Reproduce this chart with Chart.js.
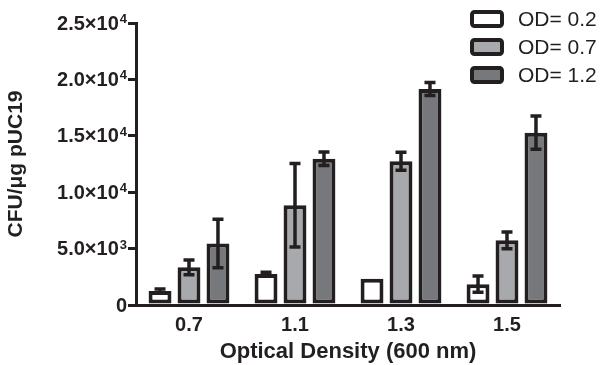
<!DOCTYPE html>
<html>
<head>
<meta charset="utf-8">
<script src="https://cdn.jsdelivr.net/npm/chart.js@4.4.0/dist/chart.umd.min.js"></script>
<style>
  html, body { margin: 0; padding: 0; background: #fff; }
  #wrap { width: 608px; height: 365px; }
</style>
</head>
<body>
<div id="wrap"><canvas id="odChart" width="608" height="365"></canvas></div>
<script>
// data
const categories = ['0.7', '1.1', '1.3', '1.5'];
const seriesLabels = ['OD= 0.2', 'OD= 0.7', 'OD= 1.2'];
const od02 = [1240, 2750, 2330, 1850];
const od02Err = [180, 150, 0, 720];
const od07 = [3340, 8850, 12740, 5730];
const od07Err = [650, 3700, 800, 740];
const od12 = [5450, 12960, 19150, 15280];
const od12Err = [2150, 600, 570, 1480];
const yTickValues = [0, 5000, 10000, 15000, 20000, 25000];
const yTickBase = ['0', '5.0×10', '1.0×10', '1.5×10', '2.0×10', '2.5×10'];
const yTickExp = ['', '3', '4', '4', '4', '4'];

const ink = '#231f20';
const fills = ['#ffffff', '#a7a9ac', '#77787b'];
const errors = [od02Err, od07Err, od12Err];
const FONT = '"Liberation Sans", Arial, sans-serif';

// error bars, drawn through the y scale
const errorBars = {
    id: 'errorBars',
    afterDatasetsDraw(chart) {
        const ctx = chart.ctx;
        const y = chart.scales.y;
        ctx.save();
        ctx.strokeStyle = ink;
        ctx.lineWidth = 3.5;
        chart.data.datasets.forEach((ds, i) => {
            const meta = chart.getDatasetMeta(i);
            meta.data.forEach((bar, j) => {
                const e = errors[i][j];
                if (!e) return;
                const v = ds.data[j];
                const top = y.getPixelForValue(v + e);
                const bot = y.getPixelForValue(v - e);
                const cx = bar.x;
                ctx.beginPath();
                ctx.moveTo(cx, top); ctx.lineTo(cx, bot);
                ctx.moveTo(cx - 5.5, top); ctx.lineTo(cx + 5.5, top);
                ctx.moveTo(cx - 5.5, bot); ctx.lineTo(cx + 5.5, bot);
                ctx.stroke();
            });
        });
        ctx.restore();
    }
};

// y tick labels with a real raised exponent
const sciTicks = {
    id: 'sciTicks',
    afterDraw(chart) {
        const ctx = chart.ctx;
        const y = chart.scales.y;
        const right = 127;
        ctx.save();
        ctx.fillStyle = ink;
        yTickValues.forEach((v, i) => {
            const py = y.getPixelForValue(v);
            ctx.font = 'bold 13px ' + FONT;
            const supW = yTickExp[i] ? ctx.measureText(yTickExp[i]).width : 0;
            ctx.textAlign = 'right';
            ctx.textBaseline = 'alphabetic';
            if (supW) ctx.fillText(yTickExp[i], right, py + 0);
            ctx.font = 'bold 20px ' + FONT;
            ctx.textBaseline = 'middle';
            ctx.fillText(yTickBase[i], right - supW - (supW ? 1 : 0), py + 1);
        });
        ctx.restore();
    }
};

// legend in the top right corner, drawn over the plot
const cornerLegend = {
    id: 'cornerLegend',
    afterDraw(chart) {
        const ctx = chart.ctx;
        ctx.save();
        ctx.font = '21px ' + FONT;
        ctx.textBaseline = 'middle';
        chart.data.datasets.forEach((ds, i) => {
            const cy = 19 + i * 28;
            ctx.beginPath();
            ctx.roundRect(472, cy - 7, 30, 14, 2.5);
            ctx.fillStyle = ds.backgroundColor;
            ctx.fill();
            ctx.lineWidth = 4;
            ctx.strokeStyle = ink;
            ctx.stroke();
            ctx.fillStyle = ink;
            ctx.fillText(ds.label, 518, cy + 1);
        });
        ctx.restore();
    }
};

const makeSet = (label, data, i) => ({
    label: label,
    data: data,
    backgroundColor: fills[i],
    borderColor: ink,
    borderWidth: 4,
    borderSkipped: false,
    categoryPercentage: 0.82,
    barPercentage: 0.79
});

new Chart(document.getElementById('odChart'), {
    type: 'bar',
    data: {
        labels: categories,
        datasets: [
            makeSet(seriesLabels[0], od02, 0),
            makeSet(seriesLabels[1], od07, 1),
            makeSet(seriesLabels[2], od12, 2)
        ]
    },
    options: {
        responsive: false,
        devicePixelRatio: 1,
        animation: false,
        layout: { padding: { top: 23, right: 48, left: 0, bottom: 0 } },
        plugins: {
            legend: { display: false },
            tooltip: { enabled: false }
        },
        scales: {
            x: {
                afterFit: (s) => { s.height = 60; },
                grid: { display: false, drawTicks: false },
                border: { display: true, color: ink, width: 3 },
                ticks: {
                    color: ink,
                    padding: 8,
                    font: { family: FONT, size: 20, weight: 'bold' }
                },
                title: {
                    display: true,
                    text: 'Optical Density (600 nm)',
                    color: ink,
                    padding: { top: 0, bottom: 0 },
                    font: { family: FONT, size: 22, weight: 'bold' }
                }
            },
            y: {
                min: 0,
                max: 25000,
                afterFit: (s) => { s.width = 136; },
                afterBuildTicks: (s) => { s.ticks = yTickValues.map(v => ({ value: v })); },
                grid: { drawOnChartArea: false, drawTicks: true, tickLength: 8, lineWidth: 3, color: ink },
                border: { display: true, color: ink, width: 3 },
                ticks: { display: false },
                title: {
                    display: true,
                    text: 'CFU/μg pUC19',
                    color: ink,
                    padding: { top: 4, bottom: 0 },
                    font: { family: FONT, size: 21, weight: 'bold' }
                }
            }
        }
    },
    plugins: [errorBars, sciTicks, cornerLegend]
});
</script>
</body>
</html>
